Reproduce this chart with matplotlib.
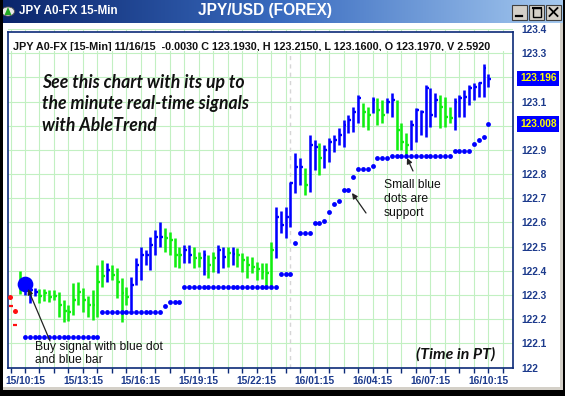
import numpy as np
import matplotlib.pyplot as plt
from matplotlib.patches import Rectangle, Circle, Polygon
from matplotlib.lines import Line2D
from matplotlib.text import Annotation
from matplotlib.transforms import Bbox
from matplotlib.colors import LinearSegmentedColormap

# 15-minute bars, index 0 = 15/10:15
bar_idx = list(range(-1, 97))
highs = [122.400, 122.366, 122.354, 122.329, 122.325, 122.325, 122.321, 122.321, 122.312, 122.279,
         122.259, 122.350, 122.354, 122.329, 122.296, 122.321, 122.424, 122.445, 122.432, 122.424,
         122.412, 122.370, 122.333, 122.374, 122.453, 122.499, 122.486, 122.540, 122.569, 122.602,
         122.577, 122.561, 122.536, 122.499, 122.507, 122.507, 122.499, 122.478, 122.486, 122.465,
         122.478, 122.507, 122.499, 122.499, 122.499, 122.494, 122.474, 122.461, 122.457, 122.437,
         122.432, 122.432, 122.519, 122.664, 122.648, 122.664, 122.767, 122.887, 122.867, 122.825,
         122.962, 122.941, 122.929, 122.921, 122.950, 122.962, 122.991, 123.024, 123.045, 123.078,
         123.127, 123.094, 123.078, 123.119, 123.115, 123.107, 123.115, 123.136, 123.107, 123.012,
         122.970, 123.024, 123.074, 123.065, 123.169, 123.156, 123.136, 123.127, 123.119, 123.078,
         123.115, 123.127, 123.148, 123.169, 123.177, 123.181, 123.256, 123.215]
lows = [122.304, 122.300, 122.267, 122.296, 122.267, 122.275, 122.271, 122.279, 122.209, 122.188,
        122.192, 122.217, 122.259, 122.230, 122.209, 122.197, 122.209, 122.333, 122.354, 122.362,
        122.288, 122.188, 122.259, 122.238, 122.341, 122.362, 122.424, 122.403, 122.465, 122.499,
        122.478, 122.465, 122.416, 122.412, 122.432, 122.432, 122.412, 122.416, 122.383, 122.370,
        122.395, 122.391, 122.412, 122.416, 122.424, 122.416, 122.395, 122.370, 122.391, 122.362,
        122.366, 122.333, 122.333, 122.453, 122.556, 122.536, 122.581, 122.722, 122.755, 122.714,
        122.726, 122.817, 122.797, 122.825, 122.850, 122.892, 122.921, 122.912, 122.970, 122.974,
        123.012, 122.995, 122.983, 123.053, 123.003, 123.012, 123.053, 123.036, 122.900, 122.900,
        122.879, 122.900, 122.933, 122.962, 122.954, 122.995, 123.036, 122.991, 122.995, 123.012,
        122.983, 123.036, 123.036, 123.086, 123.107, 123.119, 123.119, 123.160]
closes = [122.341, 122.350, 122.321, 122.312, 122.296, 122.308, 122.292, 122.296, 122.259, 122.234,
          122.230, 122.279, 122.312, 122.279, 122.259, 122.259, 122.354, 122.379, 122.403, 122.383,
          122.354, 122.308, 122.292, 122.341, 122.424, 122.465, 122.465, 122.507, 122.540, 122.540,
          122.536, 122.528, 122.465, 122.465, 122.486, 122.465, 122.453, 122.453, 122.465, 122.424,
          122.453, 122.486, 122.457, 122.474, 122.470, 122.465, 122.445, 122.424, 122.416, 122.408,
          122.395, 122.391, 122.486, 122.623, 122.590, 122.623, 122.763, 122.830, 122.830, 122.755,
          122.921, 122.912, 122.867, 122.900, 122.933, 122.941, 122.962, 123.003, 123.024, 123.057,
          123.115, 123.057, 123.045, 123.107, 123.065, 123.045, 123.099, 123.107, 122.983, 122.933,
          122.921, 123.003, 123.065, 123.057, 123.156, 123.045, 123.107, 123.078, 123.036, 123.032,
          123.099, 123.115, 123.119, 123.156, 123.161, 123.177, 123.239, 123.193]
# U = uptrend bar (blue), N = neutral bar (green)
trend = ("NUUUNNNNNNN" "NNNNNNNUNN" "NNUUUUUUUN" "NNNUUNNUNN" "UUNUNNNNNN"
         "NNUUUUUUNU" "UNUUUUUUUU" "NNUNNUUNNN" "UUUUUUNNNU" "UUUUUUU")

# AbleTrend support dots
support_idx = list(range(0, 97))
support_val = [122.127, 122.127, 122.127, 122.127, 122.127, 122.127, 122.127, 122.127, 122.127, 122.127,
               122.127, 122.127, 122.127, 122.127, 122.127, 122.127, 122.231, 122.231, 122.231, 122.231,
               122.231, 122.231, 122.231, 122.231, 122.231, 122.231, 122.231, 122.231, 122.231, 122.256,
               122.270, 122.270, 122.270, 122.334, 122.334, 122.334, 122.334, 122.334, 122.334, 122.334,
               122.334, 122.334, 122.334, 122.334, 122.334, 122.334, 122.334, 122.334, 122.334, 122.334,
               122.334, 122.334, 122.334, 122.387, 122.387, 122.387, 122.514, 122.555, 122.555, 122.555,
               122.599, 122.599, 122.607, 122.645, 122.676, 122.690, 122.734, 122.734, 122.787, 122.823,
               122.823, 122.823, 122.834, 122.868, 122.868, 122.868, 122.877, 122.877, 122.877, 122.877,
               122.877, 122.877, 122.877, 122.877, 122.877, 122.877, 122.877, 122.877, 122.877, 122.896,
               122.896, 122.896, 122.896, 122.923, 122.941, 122.955, 123.008]
buy_idx, buy_val = 0, 122.345
red_dot_idx = [-3.2, -2.0]
red_dot_val = [122.293, 122.235]
red_tick_idx = [-3.3, -2.5]
red_tick_val = [122.254, 122.176]

x_tick_pos = [0, 12, 24, 36, 48, 60, 72, 84, 96]
x_tick_labels = ["15/10:15", "15/13:15", "15/16:15", "15/19:15", "15/22:15",
                 "16/01:15", "16/04:15", "16/07:15", "16/10:15"]
y_ticks = [122.0, 122.1, 122.2, 122.3, 122.4, 122.5, 122.6, 122.7, 122.8, 122.9,
           123.0, 123.1, 123.2, 123.3, 123.4]
# 123 and 123.2 sit under the price flags
y_tick_labels = ["122", "122.1", "122.2", "122.3", "122.4", "122.5", "122.6", "122.7", "122.8",
                 "122.9", "", "123.1", "", "123.3", "123.4"]
last_price = 123.196
header = ("JPY A0-FX [15-Min] 11/16/15  -0.0030 C 123.1930, H 123.2150, "
          "L 123.1600, O 123.1970, V 2.5920")

W, H = 565, 396
BLUE = '#0000ff'
GREEN = '#11ee11'
NAVY = '#0c2a78'
LBL = '#1c3a8c'

def fx(x):
    return x / W

def fy(y):
    return 1 - y / H

fig = plt.figure(figsize=(W / 100, H / 100), dpi=100)
fig.patch.set_facecolor('white')

# window title bar
ax_t = fig.add_axes([0, fy(23), 1, 23 / H])
grad = np.linspace(0, 1, 256).reshape(1, -1)
ax_t.imshow(grad, aspect='auto', extent=[0, 1, 0, 1],
            cmap=LinearSegmentedColormap.from_list('tb', ['#0a246a', '#3a6cc0', '#a6caf0']))
ax_t.axis('off')
fig.add_artist(Circle((fx(8), fy(11.5)), 6.5 / W, transform=fig.transFigure,
                      fc='#e8e8e8', ec='#555555', lw=0.6, zorder=3))
fig.add_artist(Polygon([(fx(4.5), fy(15)), (fx(11.5), fy(15)), (fx(8), fy(7))],
                       closed=True, transform=fig.transFigure, fc='#22aa22', ec='none', zorder=4))
fig.text(fx(19), fy(11.5), "JPY A0-FX 15-Min", color='white', fontsize=8.4,
         fontweight='bold', va='center', ha='left', family='Liberation Sans')
fig.text(fx(265), fy(11), "JPY/USD (FOREX)", color='white', fontsize=11.2,
         fontweight='bold', va='center', ha='center', family='Liberation Sans')
for x0 in (512, 529, 546):
    fig.add_artist(Rectangle((fx(x0), fy(19.5)), 15 / W, 15 / H, transform=fig.transFigure,
                             fc='#d4d0c8', ec='#404040', lw=0.8, zorder=3))
fig.add_artist(Line2D([fx(515.5), fx(521.5)], [fy(16), fy(16)], transform=fig.transFigure,
                      color='black', lw=1.6, zorder=4))
fig.add_artist(Rectangle((fx(532.5), fy(16.5)), 8 / W, 8 / H, transform=fig.transFigure,
                         fc='none', ec='black', lw=1.0, zorder=4))
fig.add_artist(Line2D([fx(532.5), fx(540.5)], [fy(8), fy(8)], transform=fig.transFigure,
                      color='black', lw=1.5, zorder=4))
fig.add_artist(Line2D([fx(549.5), fx(557.5)], [fy(8), fy(16)], transform=fig.transFigure,
                      color='black', lw=1.3, zorder=4))
fig.add_artist(Line2D([fx(549.5), fx(557.5)], [fy(16), fy(8)], transform=fig.transFigure,
                      color='black', lw=1.3, zorder=4))

# price chart
ax = fig.add_axes([fx(8), fy(367.5), (513 - 8) / W, (367.5 - 29.1) / H])
ax.set_xlim(-3.52, 101.1)
ax.set_ylim(122.0, 123.4)

ax.set_xticks(x_tick_pos, x_tick_labels)
ax.set_xticks(np.arange(-3, 101, 3), minor=True)
ax.set_yticks(y_ticks, y_tick_labels)
ax.grid(True, which='both', color='#c2f0c2', lw=0.8)
ax.set_axisbelow(True)
ax.tick_params(axis='x', which='both', direction='out', length=3.6, width=1,
               color=NAVY, labelsize=7.3, labelcolor=LBL, pad=2.3)
ax.tick_params(axis='y', length=0, labelsize=7.3, labelcolor=LBL, pad=5.8)
ax.yaxis.tick_right()
for lbl in ax.get_xticklabels() + ax.get_yticklabels():
    lbl.set_fontweight('bold')
    lbl.set_family('Liberation Sans')
for s in ('left', 'right', 'bottom'):
    ax.spines[s].set_color(NAVY)
    ax.spines[s].set_linewidth(1.2)
ax.spines['top'].set_visible(False)
ax.spines['left'].set_bounds(122.0, 123.386)
ax.spines['right'].set_bounds(122.0, 123.386)

# day separator
ax.axvline(54.8, color='#d6d6d6', lw=1, ls=(0, (3, 3)), zorder=1)

cols = [BLUE if t == 'U' else GREEN for t in trend]
idx = np.array(bar_idx)
ax.vlines(idx, lows, highs, colors=cols, lw=1.85, zorder=3)
ax.hlines(closes, idx, idx + 0.6, colors=cols, lw=1.7, zorder=3)

ax.plot(support_idx, support_val, 'o', color=BLUE, ms=3.5, mec='none', zorder=4)
ax.plot(buy_idx, buy_val, 'o', color=BLUE, ms=11.3, mec='none', zorder=5)
ax.plot(red_dot_idx, red_dot_val, 'o', color='#ff1010', ms=3.6, mec='none', zorder=4)
ax.hlines(red_tick_val, red_tick_idx, np.array(red_tick_idx) + 0.8, colors='#ff1010', lw=1.6, zorder=4)

# price flags on the scale
for v in (last_price, support_val[-1]):
    ax.text(1.0 + 7 / 505, v, '%.3f' % v, transform=ax.get_yaxis_transform(),
            va='center', ha='left', color='#ffff00', fontsize=7.3, fontweight='bold',
            family='Liberation Sans', clip_on=False, zorder=6,
            bbox=dict(boxstyle='square,pad=0.28', fc=BLUE, ec='none'))

# header strip with the last bar values
fig.add_artist(Rectangle((fx(8.6), fy(51)), (512.4 - 8.6) / W, (51 - 32.4) / H,
                         transform=fig.transFigure, fc='white', ec='none', zorder=2))
fig.add_artist(Line2D([fx(8), fx(513)], [fy(32.4), fy(32.4)], transform=fig.transFigure,
                      color=NAVY, lw=1.2, zorder=3))
hdr = fig.text(fx(12.6), fy(46.5), header, fontsize=7.85, fontweight='bold',
               family='Liberation Sans', color='#111111', va='center', ha='left', zorder=4)
hdr.set_clip_box(Bbox.from_extents(8, H - 51, 492, H - 32))

# annotations
ital = dict(family=['Lato', 'DejaVu Sans'], style='italic', fontweight='bold', color='#111111')
for k, line in enumerate(["See this chart with its up to", "the minute real-time signals",
                          "with AbleTrend"]):
    fig.text(fx(42), fy(82.7 + 21.3 * k), line, fontsize=12.7, va='center', ha='left', **ital)
fig.text(fx(416.5), fy(354), "(Time in PT)", fontsize=11.4, va='center', ha='left', **ital)

body = dict(family='Liberation Sans', fontsize=8.7, color='#111111', va='center', ha='left')
for k, line in enumerate(["Small blue", "dots are", "support"]):
    fig.text(fx(384), fy(185 + 14.2 * k), line, **body)
fig.text(fx(35), fy(347.3), "Buy signal with blue dot", **body)
fig.text(fx(35), fy(360), "and blue bar", **body)

arrow = dict(arrowstyle='-|>', color='#222222', lw=0.9, mutation_scale=8, shrinkA=0, shrinkB=0)
for tail, head in [((366, 213), (352, 193)), ((413, 171), (407, 158)), ((50, 341), (28, 289))]:
    fig.add_artist(Annotation('', xy=(head[0], H - head[1]), xytext=(tail[0], H - tail[1]),
                              xycoords='figure pixels', textcoords='figure pixels',
                              arrowprops=arrow))

# window border
fig.add_artist(Rectangle((fx(560), 0), 3 / W, fy(23), transform=fig.transFigure,
                         fc='#d4d0c8', ec='none', zorder=3))
fig.add_artist(Rectangle((0, 0), 1, 9.5 / H, transform=fig.transFigure,
                         fc='#d4d0c8', ec='none', zorder=3))
fig.add_artist(Rectangle((0, 0), fx(2.5), 1, transform=fig.transFigure,
                         fc='black', ec='none', zorder=3))
fig.add_artist(Rectangle((0, 0), 1, 6 / H, transform=fig.transFigure,
                         fc='black', ec='none', zorder=3))
fig.add_artist(Rectangle((fx(563), 0), 2 / W, 1, transform=fig.transFigure,
                         fc='black', ec='none', zorder=3))

fig.savefig('out.png', dpi=100)
